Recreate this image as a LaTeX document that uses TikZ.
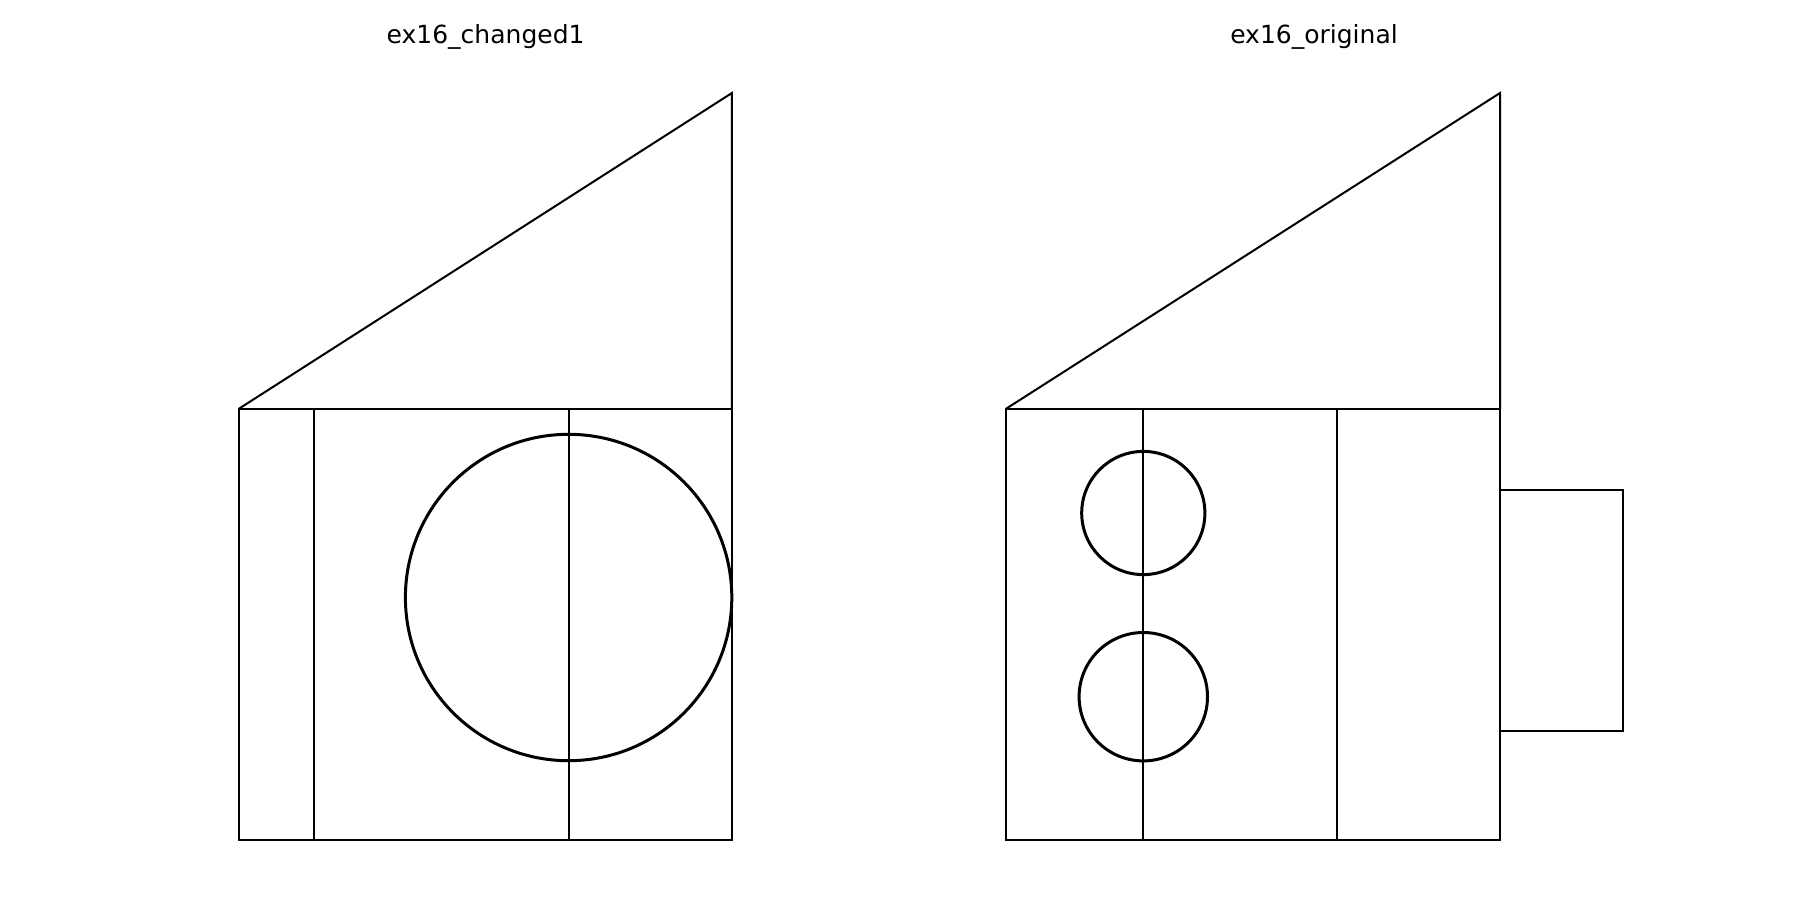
\documentclass[tikz,border=0pt]{standalone}
\usepackage{fontspec}
\setmainfont{DejaVu Sans}
\tikzset{
  thinline/.style={draw=black,line width=1pt,line join=miter},
  ring/.style={draw=black,line width=1.5pt},
  plottitle/.style={anchor=base,inner sep=0pt,font=\fontsize{12.5pt}{15pt}\selectfont,text=black}
}
\begin{document}
\begin{tikzpicture}[x=0.5pt,y=-0.5pt]
\useasboundingbox (0,0) rectangle (1800,900);
\fill[white] (0,0) rectangle (1800,900);
\node[plottitle] (t1) at (485.6,43.8) {ex16\_changed1};
\node[plottitle] (t2) at (1314,43.8) {ex16\_original};
% left figure
\draw[thinline] (238.5,409) rectangle (731.9,839.7);
\draw[thinline] (238.5,409) -- (731.9,93) -- (731.9,409);
\draw[thinline] (314,409) -- (314,839.7);
\draw[thinline] (569,409) -- (569,839.7);
\draw[ring] (568.6,597.5) circle[radius=81.6pt];
% right figure
\draw[thinline] (1005.7,409) rectangle (1500,839.7);
\draw[thinline] (1005.7,409) -- (1500,93) -- (1500,409);
\draw[thinline] (1143,409) -- (1143,839.7);
\draw[thinline] (1337,409) -- (1337,839.7);
\draw[thinline] (1500,490) -- (1623,490) -- (1623,731) -- (1500,731);
\draw[ring] (1143.3,513) circle[radius=30.8pt];
\draw[ring] (1143.3,696.7) circle[radius=32.1pt];
\end{tikzpicture}
\end{document}
